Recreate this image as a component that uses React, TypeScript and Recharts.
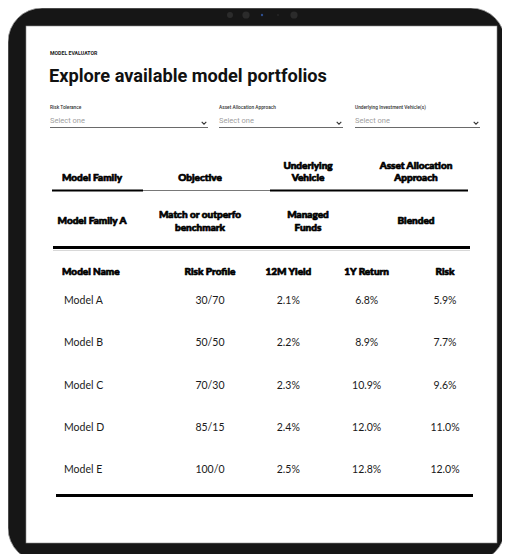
import React from 'react';
import { ComposedChart, Scatter, XAxis, YAxis, Customized, Label } from 'recharts';

// ---------- content ----------
const pageKicker = 'MODEL EVALUATOR';
const pageTitle = 'Explore available model portfolios';
const filterLabels = ['Risk Tolerance', 'Asset Allocation Approach', 'Underlying Investment Vehicle(s)'];
const filterPlaceholder = 'Select one';

const familyColumns = ['Model Family', 'Objective', 'Underlying\nVehicle', 'Asset Allocation\nApproach'];
const familyValues = ['Model Family A', 'Match or outperfo\nbenchmark', 'Managed\nFunds', 'Blended'];

const modelHeader = 'Model Name';
const modelNames = ['Model A', 'Model B', 'Model C', 'Model D', 'Model E'];
const metricColumns = ['Risk Profile', '12M Yield', '1Y Return', 'Risk'];
const riskProfile = ['30/70', '50/50', '70/30', '85/15', '100/0'];
const yield12m = ['2.1%', '2.2%', '2.3%', '2.4%', '2.5%'];
const return1y = ['6.8%', '8.9%', '10.9%', '12.0%', '12.8%'];
const riskValues = ['5.9%', '7.7%', '9.6%', '11.0%', '12.0%'];

// ---------- tables built from the arrays ----------
const metricSeries = [riskProfile, yield12m, return1y, riskValues];
const modelCells = modelNames.flatMap((row, i) =>
  metricColumns.map((col, j) => ({ row, col, text: metricSeries[j][i] }))
);
const familyCells = familyColumns.map((col, i) => ({ col, row: familyValues[0], text: familyValues[i] }));

// ---------- styles ----------
const W = 510;
const H = 554;
const HEAVY = 'Lato, Roboto, "Liberation Sans", sans-serif';
const BODY = 'Lato, "Noto Sans", sans-serif';
const UI = 'Roboto, "Noto Sans", sans-serif';
const heavyStyle = {
  fontFamily: HEAVY,
  fontWeight: 900,
  fontSize: 10,
  fill: '#000',
  style: { stroke: '#000', strokeWidth: 0.7, strokeLinejoin: 'round' as const },
};

const HeaderTick = (props: any) => {
  const { x, y, payload } = props;
  const lines = String(payload.value).split('\n');
  return (
    <text x={x} y={y} textAnchor="middle" {...heavyStyle}>
      {lines.map((l, i) => (
        <tspan key={i} x={x} dy={i === 0 ? -(lines.length - 1) * 12.5 : 12.5}>{l}</tspan>
      ))}
    </text>
  );
};

const heavyCell = (props: any) => {
  const { cx, cy, payload } = props;
  const lines = String(payload.text).split('\n');
  return (
    <text x={cx} y={cy} textAnchor="middle" dominantBaseline="central" {...heavyStyle}>
      {lines.map((l, i) => (
        <tspan key={i} x={cx} dy={i === 0 ? -((lines.length - 1) * 13) / 2 : 13}>{l}</tspan>
      ))}
    </text>
  );
};

const valueCell = (props: any) => {
  const { cx, cy, payload } = props;
  return (
    <text x={cx} y={cy} textAnchor="middle" dominantBaseline="central" fontFamily={BODY} fontSize={10.5} fill="#1a1a1a">
      {payload.text}
    </text>
  );
};

const ROW_AXIS_W = 109;
const RowTick = (props: any) => {
  const { x, y, payload } = props;
  return (
    <text x={x - ROW_AXIS_W + 2} y={y} textAnchor="start" dominantBaseline="central" fontFamily={BODY} fontSize={10.5} fill="#1a1a1a">
      {payload.value}
    </text>
  );
};

const ModelNameLabel = (props: any) => {
  const vb = props.viewBox || {};
  return (
    <text x={vb.x} y={vb.y - 4} textAnchor="start" {...heavyStyle}>
      {modelHeader}
    </text>
  );
};

const Chevron = ({ x, y }: { x: number; y: number }) => (
  <path d={`M${x - 2.3},${y - 1.2} L${x},${y + 1.2} L${x + 2.3},${y - 1.2}`} fill="none" stroke="#333" strokeWidth={1.1} />
);

const Backdrop = () => {
  const filters = [
    { x0: 50, x1: 208 },
    { x0: 219, x1: 343 },
    { x0: 355, x1: 480 },
  ];
  return (
    <g>
      <rect x={8} y={8} width={497} height={554} rx={34} fill="#161616" stroke="#9a9a9a" strokeWidth={0.8} />
      <rect x={458} y={4.5} width={27} height={2.5} fill="#c9c9c9" />
      <rect x={26} y={26} width={471} height={517} fill="#fff" stroke="#8a8a8a" strokeWidth={0.6} />
      <circle cx={230} cy={15} r={3} fill="#2b2b2b" />
      <circle cx={246} cy={15} r={3.6} fill="#2b2b2b" />
      <circle cx={262} cy={15} r={1.2} fill="#2f4f8f" />
      <circle cx={278} cy={15} r={1} fill="#262626" />
      <circle cx={294} cy={15} r={3.6} fill="#2b2b2b" />

      <text x={50} y={55} fontFamily={UI} fontWeight={700} fontSize={5.2} fill="#222">{pageKicker}</text>
      <text x={49} y={82} fontFamily={UI} fontWeight={700} fontSize={18.2} fill="#111">{pageTitle}</text>

      {filters.map((f, i) => (
        <g key={i}>
          <text x={f.x0} y={109} fontFamily={UI} fontWeight={500} fontSize={4.8} fill="#333">{filterLabels[i]}</text>
          <text x={f.x0} y={123} fontFamily={UI} fontSize={7.5} fill="#a0a0a0">{filterPlaceholder}</text>
          <Chevron x={f.x1 - 4} y={123} />
          <line x1={f.x0} x2={f.x1} y1={127.5} y2={127.5} stroke="#6a6a6a" strokeWidth={1} />
        </g>
      ))}

      <line x1={52} x2={143} y1={190.5} y2={190.5} stroke="#000" strokeWidth={2} />
      <line x1={143} x2={270} y1={190.5} y2={190.5} stroke="#555" strokeWidth={0.8} />
      <line x1={270} x2={468} y1={190.5} y2={190.5} stroke="#000" strokeWidth={2} />
      <line x1={53} x2={470} y1={247.5} y2={247.5} stroke="#000" strokeWidth={3} />
      <line x1={53} x2={470} y1={250.5} y2={250.5} stroke="#d8d8d8" strokeWidth={1} />
      <line x1={56} x2={473} y1={495.5} y2={495.5} stroke="#000" strokeWidth={3} />
    </g>
  );
};

const layer: React.CSSProperties = { position: 'absolute', left: 0, top: 0 };

export default function App() {
  return (
    <div style={{ position: 'relative', width: W, height: H, margin: '-8px 0 0 -8px', background: '#fff', overflow: 'hidden' }}>
      <div style={layer}>
        <ComposedChart width={W} height={H} data={[]} margin={{ top: 0, right: 0, bottom: 0, left: 0 }}>
          <Customized component={Backdrop} />
        </ComposedChart>
      </div>

      <div style={layer}>
        <ComposedChart width={W} height={H} margin={{ top: 145, right: 94, bottom: 299, left: 92 }}>
          <XAxis
            xAxisId="f"
            dataKey="col"
            type="category"
            scale="point"
            orientation="top"
            allowDuplicatedCategory={false}
            ticks={familyColumns}
            height={40}
            axisLine={false}
            tickLine={false}
            tickSize={0}
            tickMargin={4}
            interval={0}
            tick={HeaderTick}
          />
          <YAxis yAxisId="f" dataKey="row" type="category" scale="point" allowDuplicatedCategory={false} hide />
          <Scatter xAxisId="f" yAxisId="f" data={familyCells} shape={heavyCell} isAnimationActive={false} />
        </ComposedChart>
      </div>

      <div style={layer}>
        <ComposedChart width={W} height={H} margin={{ top: 259, right: 26, bottom: 64, left: 62 }}>
          <XAxis
            xAxisId="m"
            dataKey="col"
            type="category"
            scale="point"
            orientation="top"
            allowDuplicatedCategory={false}
            ticks={metricColumns}
            height={20}
            padding={{ left: 39, right: 39 }}
            axisLine={false}
            tickLine={false}
            tickSize={0}
            tickMargin={4}
            interval={0}
            tick={HeaderTick}
          />
          <YAxis
            yAxisId="m"
            dataKey="row"
            type="category"
            scale="point"
            reversed
            allowDuplicatedCategory={false}
            ticks={modelNames}
            width={ROW_AXIS_W}
            padding={{ top: 21, bottom: 21 }}
            axisLine={false}
            tickLine={false}
            tickSize={0}
            tickMargin={0}
            interval={0}
            tick={RowTick}
            label={<Label content={ModelNameLabel} />}
          />
          <Scatter xAxisId="m" yAxisId="m" data={modelCells} shape={valueCell} isAnimationActive={false} />
        </ComposedChart>
      </div>
    </div>
  );
}
